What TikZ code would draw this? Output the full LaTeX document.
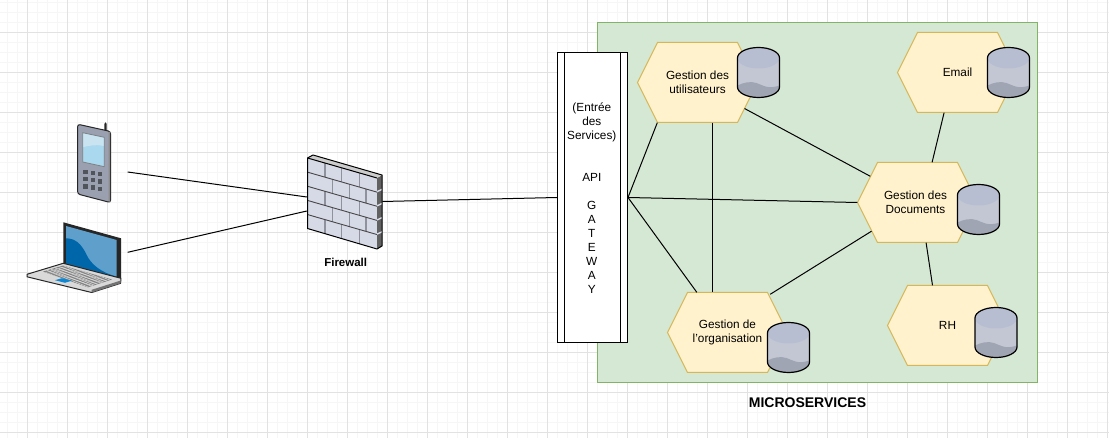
\documentclass[tikz,border=0pt]{standalone}
\usepackage{fontspec}
\setmainfont{Liberation Sans}
\usetikzlibrary{calc}
\definecolor{gmaj}{HTML}{E2E2E2}
\definecolor{gmin}{HTML}{F6F6F6}
\definecolor{grnf}{HTML}{D5E8D4}
\definecolor{grnd}{HTML}{82B366}
\definecolor{hexf}{HTML}{FFF2CC}
\definecolor{hexd}{HTML}{D6B656}
\definecolor{cylbody}{HTML}{C3C7D3}
\definecolor{cyltop}{HTML}{B8BED1}
\definecolor{cylbot}{HTML}{A0A5B4}
\definecolor{phoneb}{HTML}{9AA0B0}
\definecolor{phonek}{HTML}{50555C}
\definecolor{scr}{HTML}{A9D8EF}
\definecolor{scrl}{HTML}{C9E4F0}
\definecolor{lapl}{HTML}{5F9FCB}
\definecolor{lapd}{HTML}{0066AA}
\definecolor{brick}{HTML}{D6D9E6}
\definecolor{seam}{HTML}{8F919D}
\tikzset{
  conn/.style={draw=black,line width=1pt},
  hexlabel/.style={inner sep=0pt,minimum width=120pt,minimum height=80pt,align=center,font=\fontsize{11.8}{14}\selectfont},
  boldlabel/.style={inner sep=0pt,font=\bfseries\fontsize{#1}{16}\selectfont},
  gwbox/.style={draw=black,fill=white,line width=1pt,minimum width=70pt,minimum height=290pt,inner sep=0pt},
  gwtext/.style={inner sep=0pt,align=center,font=\fontsize{11.8}{14}\selectfont},
  declare function={wy(\x,\k)=158+14.14*\k+(\x-307.5)*20/69.5;}
}
% name, left, top, text, text shift
\newcommand\hexsvc[5]{%
  \fill[hexf,draw=hexd,line width=1pt] (#2,#3+40) -- (#2+20,#3) -- (#2+100,#3) -- (#2+120,#3+40) -- (#2+100,#3+80) -- (#2+20,#3+80) -- cycle;
  \node[hexlabel] (#1) at (#2+60,#3+40) {};
  \node[hexlabel,minimum width=0pt,minimum height=0pt] (#1t) at (#2+60+#5,#3+40) {#4};
}
% name, left, top
\newcommand\dbcyl[3]{%
  \begin{scope}[shift={(#2,#3)}]
    \coordinate (#1) at (21,25);
    \fill[cylbody] (0,10.5) arc[start angle=180,end angle=360,x radius=21,y radius=10.5] -- (42,39.5) arc[start angle=0,end angle=180,x radius=21,y radius=10.5] -- cycle;
    \fill[cyltop] (21,10.5) ellipse[x radius=21,y radius=10.5];
    \fill[cylbot] (0,38) .. controls (6,35) and (13,33.5) .. (19,35.5) .. controls (26,38) and (30,42) .. (42,38) -- (42,39.5) arc[start angle=0,end angle=180,x radius=21,y radius=10.5] -- cycle;
    \draw[black,line width=1.2pt] (0,39.5) -- (0,10.5) arc[start angle=180,end angle=360,x radius=21,y radius=10.5] -- (42,39.5) arc[start angle=0,end angle=180,x radius=21,y radius=10.5];
  \end{scope}
}
\begin{document}
\begin{tikzpicture}[x=1pt,y=-1pt]
\useasboundingbox (0,0) rectangle (1109,438);
\fill[white] (0,0) rectangle (1109,438);
% grid
\foreach \i in {0,...,110} {\draw[gmin,line width=1pt] ({7.5+10*\i},0) -- ({7.5+10*\i},438);}
\foreach \i in {0,...,43} {\draw[gmin,line width=1pt] (0,{2.5+10*\i}) -- (1109,{2.5+10*\i});}
\foreach \i in {0,...,27} {\draw[gmaj,line width=1pt] ({27.5+40*\i},0) -- ({27.5+40*\i},438);}
\foreach \i in {-1,...,10} {\draw[gmaj,line width=1pt] (0,{32.5+40*\i}) -- (1109,{32.5+40*\i});}
% microservices panel
\node[draw=grnd,fill=grnf,line width=1pt,minimum width=440pt,minimum height=360pt,inner sep=0pt] (panel) at (817.5,202.5) {};
\node[boldlabel=14] (mslabel) at (807.5,403) {MICROSERVICES};
% gateway
\node[gwbox] (gw) at (592.5,197.5) {};
\draw[conn] (564.5,52.5) -- (564.5,342.5);
\draw[conn] (620.5,52.5) -- (620.5,342.5);
\node[gwtext] (gwlabel) at (591.8,197.7) {(Entrée\\des\\Services)\\[14pt]\\API\\[14pt]G\\A\\T\\E\\W\\A\\Y};
% services
\hexsvc{util}{637.5}{42.5}{Gestion des\\utilisateurs}{0}
\hexsvc{mail}{897.5}{32.5}{Email}{0}
\hexsvc{docs}{857.5}{162.5}{Gestion des\\Documents}{-2}
\hexsvc{rh}{887.5}{285.5}{RH}{0}
\hexsvc{orga}{667.5}{292.5}{Gestion de\\l\symbol{39}organisation}{0}
\dbcyl{dbu}{737.5}{47.5}
\dbcyl{dbm}{987.5}{47.5}
\dbcyl{dbd}{957.5}{184.5}
\dbcyl{dbr}{975}{307.5}
\dbcyl{dbo}{767.5}{322.5}
% connectors
\draw[conn] (gw.east) -- ($(util.south west)+(20,0)$);
\draw[conn] (gw.east) -- (docs.west);
\draw[conn] (gw.east) -- ($(orga.north west)+(29.5,0)$);
\draw[conn] ($(util.south west)+(75,0)$) -- ($(orga.north west)+(45,0)$);
\draw[conn] ($(util.south east)+(-13.2,-14.2)$) -- ($(docs.north west)+(13,14)$);
\draw[conn] ($(orga.north east)+(-17.5,2)$) -- ($(docs.south west)+(14.2,-11.5)$);
\draw[conn] ($(mail.south west)+(46.8,0)$) -- ($(docs.north west)+(74.8,0)$);
\draw[conn] ($(docs.south west)+(68.8,0)$) -- ($(rh.north west)+(45.2,0)$);
% phone
\fill[black!85] (104.4,130) -- (104.4,124) -- (105.5,122.3) -- (106.7,124) -- (106.7,131) -- cycle;
\fill[phoneb,draw=black!85,line width=1pt,rounded corners=2.5pt] (77.6,124.2) -- (110.6,131.5) -- (110.6,202.6) -- (77.6,194) -- cycle;
\fill[black!45] (108.6,131.6) -- (110.2,132) -- (110.2,201.8) -- (108.6,201.4) -- cycle;
\fill[scr,draw=black!50,line width=.8pt] (82.7,132.7) -- (104.3,137.3) -- (104.3,166.7) -- (82.7,162) -- cycle;
\fill[scrl] (83.3,133.6) -- (103.7,138) -- (103.7,146) .. controls (95,144) and (89,146) .. (83.3,147) -- cycle;
\foreach \c in {0,1,2} \foreach \r in {0,1,2} {
  \fill[phonek] ({83.4+7.4*\c},{170+7.2*\r+1.1*\c}) rectangle ++(4.2,4.2);
}
% laptop
\fill[black!85] (63.3,222.3) -- (121,238.3) -- (121,278.3) -- (63.3,263.3) -- cycle;
\fill[lapl] (66,226) -- (116.7,240) -- (116.7,276.7) -- (66,263.3) -- cycle;
\fill[lapd] (66,238.3) .. controls (75,238.5) and (81,243) .. (86.7,255) .. controls (91,264) and (100,272) .. (116.7,276.7) -- (66,263.3) -- cycle;
\fill[black!15,draw=black!85,line width=1pt,line join=round] (27,274.3) -- (63.3,263.3) -- (121,278.3) -- (120.6,283.3) -- (91.7,292.5) -- (27,276.8) -- cycle;
\fill[black!55] (91.7,292.5) -- (120.6,283.3) -- (120.8,280.5) -- (91.7,289.8) -- cycle;
\fill[black!50] (43,271.6) -- (63,265.6) -- (112,279.5) -- (88,287.3) -- cycle;
\foreach \t in {0.2,0.4,0.6,0.8} {
  \draw[black!12,line width=.45pt] ($(43,271.6)!\t!(63,265.6)$) -- ($(88,287.3)!\t!(112,279.5)$);
}
\foreach \t in {0.06,0.12,...,0.97} {
  \draw[black!12,line width=.45pt] ($(43,271.6)!\t!(88,287.3)$) -- ($(63,265.6)!\t!(112,279.5)$);
}
\fill[cyan!70!blue] (55,280.2) -- (62,278.2) -- (72,280.6) -- (65,282.8) -- cycle;
% firewall
\fill[brick] (307.5,{wy(307.5,0)}) -- (377,{wy(377,0)}) -- (377,{wy(377,5)}) -- (307.5,{wy(307.5,5)}) -- cycle;
\fill[black!62] (377,178) -- (382,175) -- (382,246) -- (377,249) -- cycle;
\fill[black!20] (307.5,158) -- (313,155) -- (382,175) -- (377,178) -- cycle;
\foreach \k in {1,...,4} {
  \fill[brick!85] (377,{wy(377,\k)-1.2}) -- (382,{wy(377,\k)-3.5}) -- (382,{wy(377,\k)-2}) -- (377,{wy(377,\k)+.3}) -- cycle;
}
\foreach \k/\sa/\sb/\sc in {0/325/341.7/359.3,1/332.3/349.3/366,2/325/341.7/359.3,3/332.3/349.3/366,4/325/341.7/359.3} {
  \foreach \s in {\sa,\sb,\sc} {
    \draw[seam,line width=1.5pt] (\s,{wy(\s,\k)}) -- (\s,{wy(\s,\k+1)});
  }
}
\foreach \k in {1,...,4} {
  \draw[black!72,line width=.9pt] (307.5,{wy(307.5,\k)}) -- (377,{wy(377,\k)});
}
\draw[black,line width=1pt,line join=round] (307.5,158) -- (313,155) -- (382,175) -- (382,246) -- (377,249) -- (307.5,228.5) -- cycle;
\draw[black,line width=1pt] (307.5,158) -- (377,178);
\node[boldlabel=11.5] (fwlabel) at (345.7,262.7) {Firewall};
% free ends
\coordinate (phoneout) at (127.7,172);
\coordinate (lapout) at (127.7,252.3);
\coordinate (fwa) at (306.8,197);
\coordinate (fwb) at (306.8,211);
\coordinate (fwout) at (382.3,201.5);
\draw[conn] (phoneout) -- (fwa);
\draw[conn] (lapout) -- (fwb);
\draw[conn] (fwout) -- (gw.west);
\end{tikzpicture}
\end{document}
